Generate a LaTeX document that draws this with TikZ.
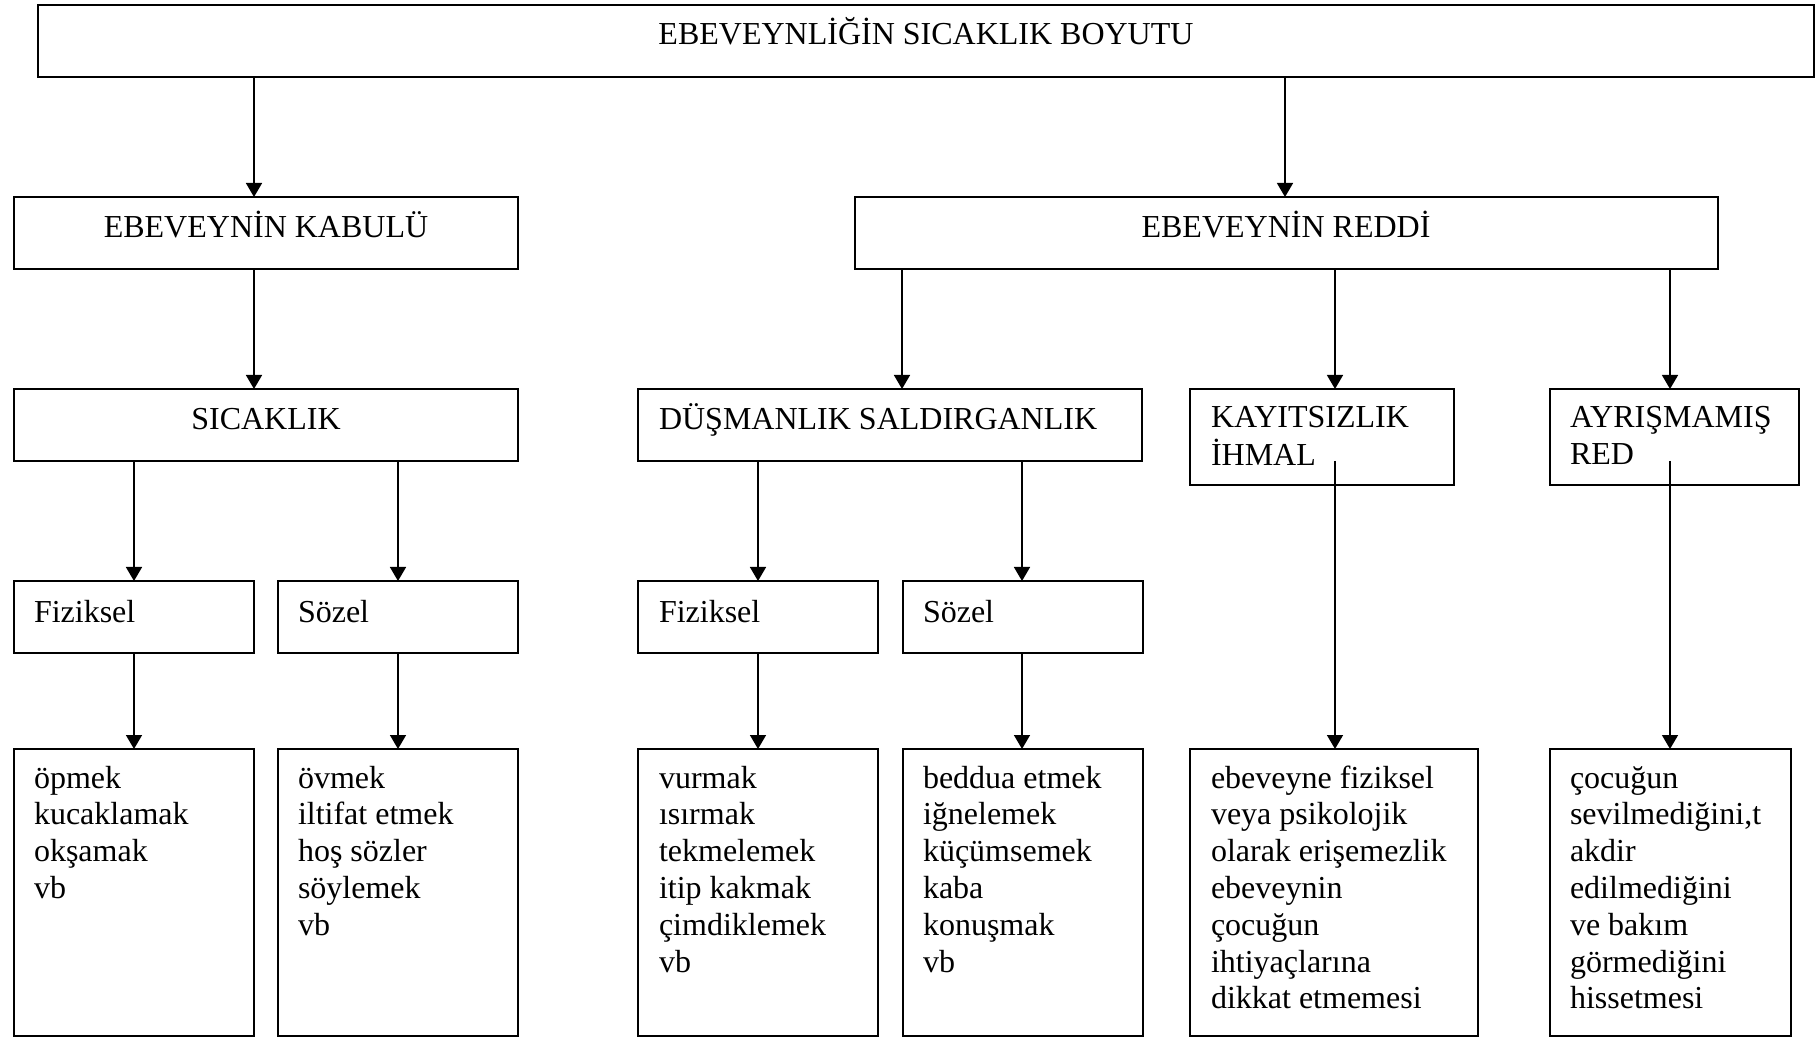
\documentclass[tikz,border=0pt]{standalone}
\usepackage{fontspec}
\setmainfont{Liberation Serif}
\usetikzlibrary{arrows.meta}
\begin{document}
\begin{tikzpicture}[x=0.5pt,y=-0.5pt,
  box/.style={draw,line width=0.9pt,inner sep=0pt,outer sep=0pt,anchor=north west},
  txt/.style={inner sep=0pt,outer sep=0pt,font=\fontsize{16}{18.4}\selectfont},
  arr/.style={line width=0.8pt,-{Triangle[length=7pt,width=8pt]}}]
\useasboundingbox (0,0) rectangle (1816,1037);
% boxes
\node[box,minimum width=888pt,minimum height=36pt] (top) at (38,5) {};
\node[box,minimum width=252pt,minimum height=36pt] (kabul) at (14,197) {};
\node[box,minimum width=431.5pt,minimum height=36pt] (red) at (855,197) {};
\node[box,minimum width=252pt,minimum height=36pt] (sicak) at (14,389) {};
\node[box,minimum width=252pt,minimum height=36pt] (dusm) at (638,389) {};
\node[box,minimum width=132pt,minimum height=48pt] (kayit) at (1190,389) {};
\node[box,minimum width=124.5pt,minimum height=48pt] (ayris) at (1550,389) {};
\node[box,minimum width=120pt,minimum height=36pt] (fizA) at (14,581) {};
\node[box,minimum width=120pt,minimum height=36pt] (sozA) at (278,581) {};
\node[box,minimum width=120pt,minimum height=36pt] (fizB) at (638,581) {};
\node[box,minimum width=120pt,minimum height=36pt] (sozB) at (903,581) {};
\node[box,minimum width=120pt,minimum height=143.5pt] (bA) at (14,749) {};
\node[box,minimum width=120pt,minimum height=143.5pt] (bB) at (278,749) {};
\node[box,minimum width=120pt,minimum height=143.5pt] (bC) at (638,749) {};
\node[box,minimum width=120pt,minimum height=143.5pt] (bD) at (903,749) {};
\node[box,minimum width=144pt,minimum height=143.5pt] (bE) at (1190,749) {};
\node[box,minimum width=120.5pt,minimum height=143.5pt] (bF) at (1550,749) {};
% texts
\node[txt,anchor=base] (tTop) at (926,45) {EBEVEYNLİĞİN SICAKLIK BOYUTU};
\node[txt,anchor=base] (tKabul) at (266,238) {EBEVEYNİN KABULÜ};
\node[txt,anchor=base] (tRed) at (1286,238) {EBEVEYNİN REDDİ};
\node[txt,anchor=base] (tSicak) at (266,430) {SICAKLIK};
\node[txt,anchor=base west] (tDusm) at (659,430) {DÜŞMANLIK SALDIRGANLIK};
\node[txt,anchor=base west] (tKayit) at (1211,428) {\begin{tabular}[t]{@{}l@{}}KAYITSIZLIK\\İHMAL\end{tabular}};
\node[txt,anchor=base west] (tAyris) at (1570,428) {\begin{tabular}[t]{@{}l@{}}AYRIŞMAMIŞ\\RED\end{tabular}};
\node[txt,anchor=base west] (tFizA) at (34,622) {Fiziksel};
\node[txt,anchor=base west] (tSozA) at (298,622) {Sözel};
\node[txt,anchor=base west] (tFizB) at (659,622) {Fiziksel};
\node[txt,anchor=base west] (tSozB) at (923,622) {Sözel};
\node[txt,anchor=base west] (tbA) at (34,788) {\begin{tabular}[t]{@{}l@{}}öpmek\\kucaklamak\\okşamak\\vb\end{tabular}};
\node[txt,anchor=base west] (tbB) at (298,788) {\begin{tabular}[t]{@{}l@{}}övmek\\iltifat etmek\\hoş sözler\\söylemek\\vb\end{tabular}};
\node[txt,anchor=base west] (tbC) at (659,788) {\begin{tabular}[t]{@{}l@{}}vurmak\\ısırmak\\tekmelemek\\itip kakmak\\çimdiklemek\\vb\end{tabular}};
\node[txt,anchor=base west] (tbD) at (923,788) {\begin{tabular}[t]{@{}l@{}}beddua etmek\\iğnelemek\\küçümsemek\\kaba\\konuşmak\\vb\end{tabular}};
\node[txt,anchor=base west] (tbE) at (1211,788) {\begin{tabular}[t]{@{}l@{}}ebeveyne fiziksel\\veya psikolojik\\olarak erişemezlik\\ebeveynin\\çocuğun\\ihtiyaçlarına\\dikkat etmemesi\end{tabular}};
\node[txt,anchor=base west] (tbF) at (1570,788) {\begin{tabular}[t]{@{}l@{}}çocuğun\\sevilmediğini,t\\akdir\\edilmediğini\\ve bakım\\görmediğini\\hissetmesi\end{tabular}};
% connector columns
\coordinate (cA) at (254,0);
\coordinate (cB) at (1285,0);
\coordinate (cC) at (902,0);
\coordinate (cD) at (1335,0);
\coordinate (cE) at (1670,0);
\coordinate (cF) at (134,0);
\coordinate (cG) at (398,0);
\coordinate (cH) at (758,0);
\coordinate (cI) at (1022,0);
\coordinate (kIn) at (1335,461);
\coordinate (aIn) at (1670,461);
% connectors
\draw[arr] (top.south -| cA) -- (kabul.north -| cA);
\draw[arr] (top.south -| cB) -- (red.north -| cB);
\draw[arr] (kabul.south -| cA) -- (sicak.north -| cA);
\draw[arr] (red.south -| cC) -- (dusm.north -| cC);
\draw[arr] (red.south -| cD) -- (kayit.north -| cD);
\draw[arr] (red.south -| cE) -- (ayris.north -| cE);
\draw[arr] (sicak.south -| cF) -- (fizA.north -| cF);
\draw[arr] (sicak.south -| cG) -- (sozA.north -| cG);
\draw[arr] (dusm.south -| cH) -- (fizB.north -| cH);
\draw[arr] (dusm.south -| cI) -- (sozB.north -| cI);
\draw[arr] (fizA.south -| cF) -- (bA.north -| cF);
\draw[arr] (sozA.south -| cG) -- (bB.north -| cG);
\draw[arr] (fizB.south -| cH) -- (bC.north -| cH);
\draw[arr] (sozB.south -| cI) -- (bD.north -| cI);
\draw[arr] (kIn) -- (bE.north -| kIn);
\draw[arr] (aIn) -- (bF.north -| aIn);
\end{tikzpicture}
\end{document}
